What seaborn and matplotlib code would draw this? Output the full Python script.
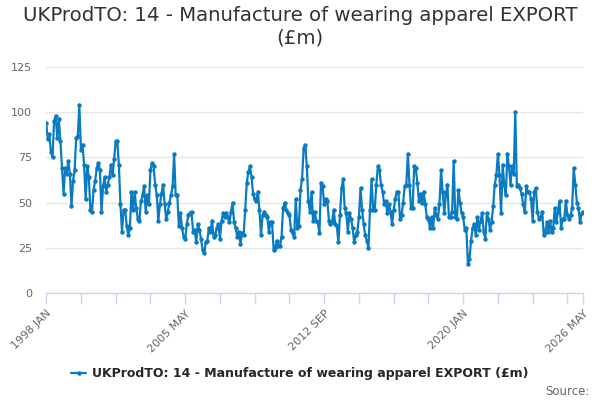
import pandas as pd
import numpy as np
import matplotlib
matplotlib.use('Agg')
import matplotlib.pyplot as plt
import seaborn as sns

# monthly export values (£m), 1998 JAN .. 2026 MAY
y1998 = [94, 85, 88, 78, 75, 95, 98, 86, 96, 84, 69, 55]
y1999 = [69, 66, 73, 66, 48, 62, 68, 86, 87, 104, 79, 82]
y2000 = [71, 52, 70, 64, 46, 45, 57, 62, 69, 72, 68, 45]
y2001 = [59, 64, 56, 60, 64, 71, 65, 74, 84, 84, 71, 49]
y2002 = [34, 46, 46, 37, 32, 36, 56, 46, 56, 47, 41, 40]
y2003 = [51, 54, 59, 45, 54, 49, 68, 72, 70, 60, 54, 40]
y2004 = [49, 55, 60, 49, 41, 45, 50, 54, 59, 77, 54, 54]
y2005 = [37, 44, 36, 31, 30, 38, 43, 44, 45, 34, 35, 28]
y2006 = [38, 35, 30, 24, 22, 28, 29, 36, 34, 40, 31, 32]
y2007 = [36, 38, 30, 40, 44, 42, 44, 42, 39, 45, 50, 39]
y2008 = [36, 31, 34, 27, 33, 32, 46, 61, 67, 70, 64, 55]
y2009 = [52, 51, 56, 46, 32, 43, 45, 43, 42, 34, 39, 39]
y2010 = [24, 25, 29, 26, 26, 31, 47, 50, 46, 44, 43, 35]
y2011 = [33, 31, 52, 36, 37, 57, 63, 80, 82, 70, 51, 45]
y2012 = [56, 40, 45, 40, 39, 33, 61, 59, 49, 52, 51, 40]
y2013 = [38, 39, 46, 38, 37, 28, 43, 58, 63, 47, 44, 34]
y2014 = [44, 41, 36, 28, 32, 34, 42, 58, 46, 38, 32, 29]
y2015 = [25, 46, 63, 46, 46, 60, 70, 68, 60, 56, 49, 51]
y2016 = [44, 49, 45, 38, 46, 52, 56, 56, 41, 43, 50, 59]
y2017 = [60, 77, 60, 47, 47, 70, 69, 61, 51, 55, 50, 56]
y2018 = [49, 42, 41, 36, 42, 36, 47, 43, 41, 49, 68, 56]
y2019 = [44, 54, 60, 42, 42, 45, 73, 42, 41, 57, 50, 44]
y2020 = [42, 35, 36, 16, 19, 29, 36, 38, 32, 42, 35, 40]
y2021 = [44, 34, 30, 44, 41, 35, 39, 48, 60, 65, 77, 65]
y2022 = [44, 71, 60, 54, 77, 70, 60, 70, 66, 100, 59, 60]
y2023 = [58, 55, 49, 45, 59, 56, 56, 52, 40, 56, 58, 45]
y2024 = [41, 42, 45, 32, 34, 39, 34, 40, 34, 36, 47, 39]
y2025 = [45, 51, 36, 41, 41, 51, 43, 41, 43, 47, 69, 60]
y2026 = [50, 47, 39, 44, 45]

values = (y1998 + y1999 + y2000 + y2001 + y2002 + y2003 + y2004 + y2005 + y2006
          + y2007 + y2008 + y2009 + y2010 + y2011 + y2012 + y2013 + y2014 + y2015
          + y2016 + y2017 + y2018 + y2019 + y2020 + y2021 + y2022 + y2023 + y2024
          + y2025 + y2026)

months = ['JAN', 'FEB', 'MAR', 'APR', 'MAY', 'JUN', 'JUL', 'AUG', 'SEP', 'OCT', 'NOV', 'DEC']
periods = [f'{1998 + i // 12} {months[i % 12]}' for i in range(len(values))]
label_ticks = ['1998 JAN', '2005 MAY', '2012 SEP', '2020 JAN', '2026 MAY']
series_name = 'UKProdTO: 14 - Manufacture of wearing apparel EXPORT (£m)'

df = pd.DataFrame({'idx': np.arange(len(values)), 'value': values, 'period': periods})

sns.set_style('white')
plt.rcParams['font.family'] = ['DejaVu Sans']

fig = plt.figure(figsize=(6, 4), dpi=100)
ax = fig.add_axes([0.077, 0.2675, 0.895, 0.565])

blue = '#0a7bc1'
sns.lineplot(data=df, x='idx', y='value', ax=ax, color=blue, linewidth=1.6,
             marker='o', markersize=3.2, markeredgewidth=0, label=series_name)

ax.set_xlim(0, len(values) - 1)
ax.set_ylim(0, 125)
ax.set_yticks(np.arange(0, 126, 25))
ax.yaxis.grid(True, color='#e6e6e6', linewidth=1)
ax.set_axisbelow(True)
for s in ['left', 'right', 'top']:
    ax.spines[s].set_visible(False)
ax.spines['bottom'].set_color('#ccd6eb')
ax.spines['bottom'].set_linewidth(1)

minor = list(range(0, len(values), 22)) + [len(values) - 1]
ax.set_xticks(minor, minor=True)
major = [periods.index(p) for p in label_ticks]
ax.set_xticks(major)
ax.set_xticklabels(label_ticks, rotation=45, ha='right', rotation_mode='anchor',
                   fontsize=8, color='#666666')
ax.tick_params(axis='x', which='both', length=8, color='#ccd6eb', width=1, pad=3, bottom=True)
ax.tick_params(axis='y', length=0, labelsize=8, labelcolor='#666666', pad=10)
ax.set_xlabel('')
ax.set_ylabel('')

fig.suptitle('UKProdTO: 14 - Manufacture of wearing apparel EXPORT\n(£m)',
             x=0.5, y=0.985, fontsize=14.2, color='#333333', linespacing=1.2)

ax.get_legend().remove()
fig.legend(*ax.get_legend_handles_labels(), loc='center', bbox_to_anchor=(0.5, 0.065),
           frameon=False, handlelength=1.2, handletextpad=0.5,
           prop={'weight': 'bold', 'size': 9})
fig.text(0.982, 0.022, 'Source:', ha='right', va='center', fontsize=8.5, color='#666666')

fig.savefig('out.png', dpi=100)
